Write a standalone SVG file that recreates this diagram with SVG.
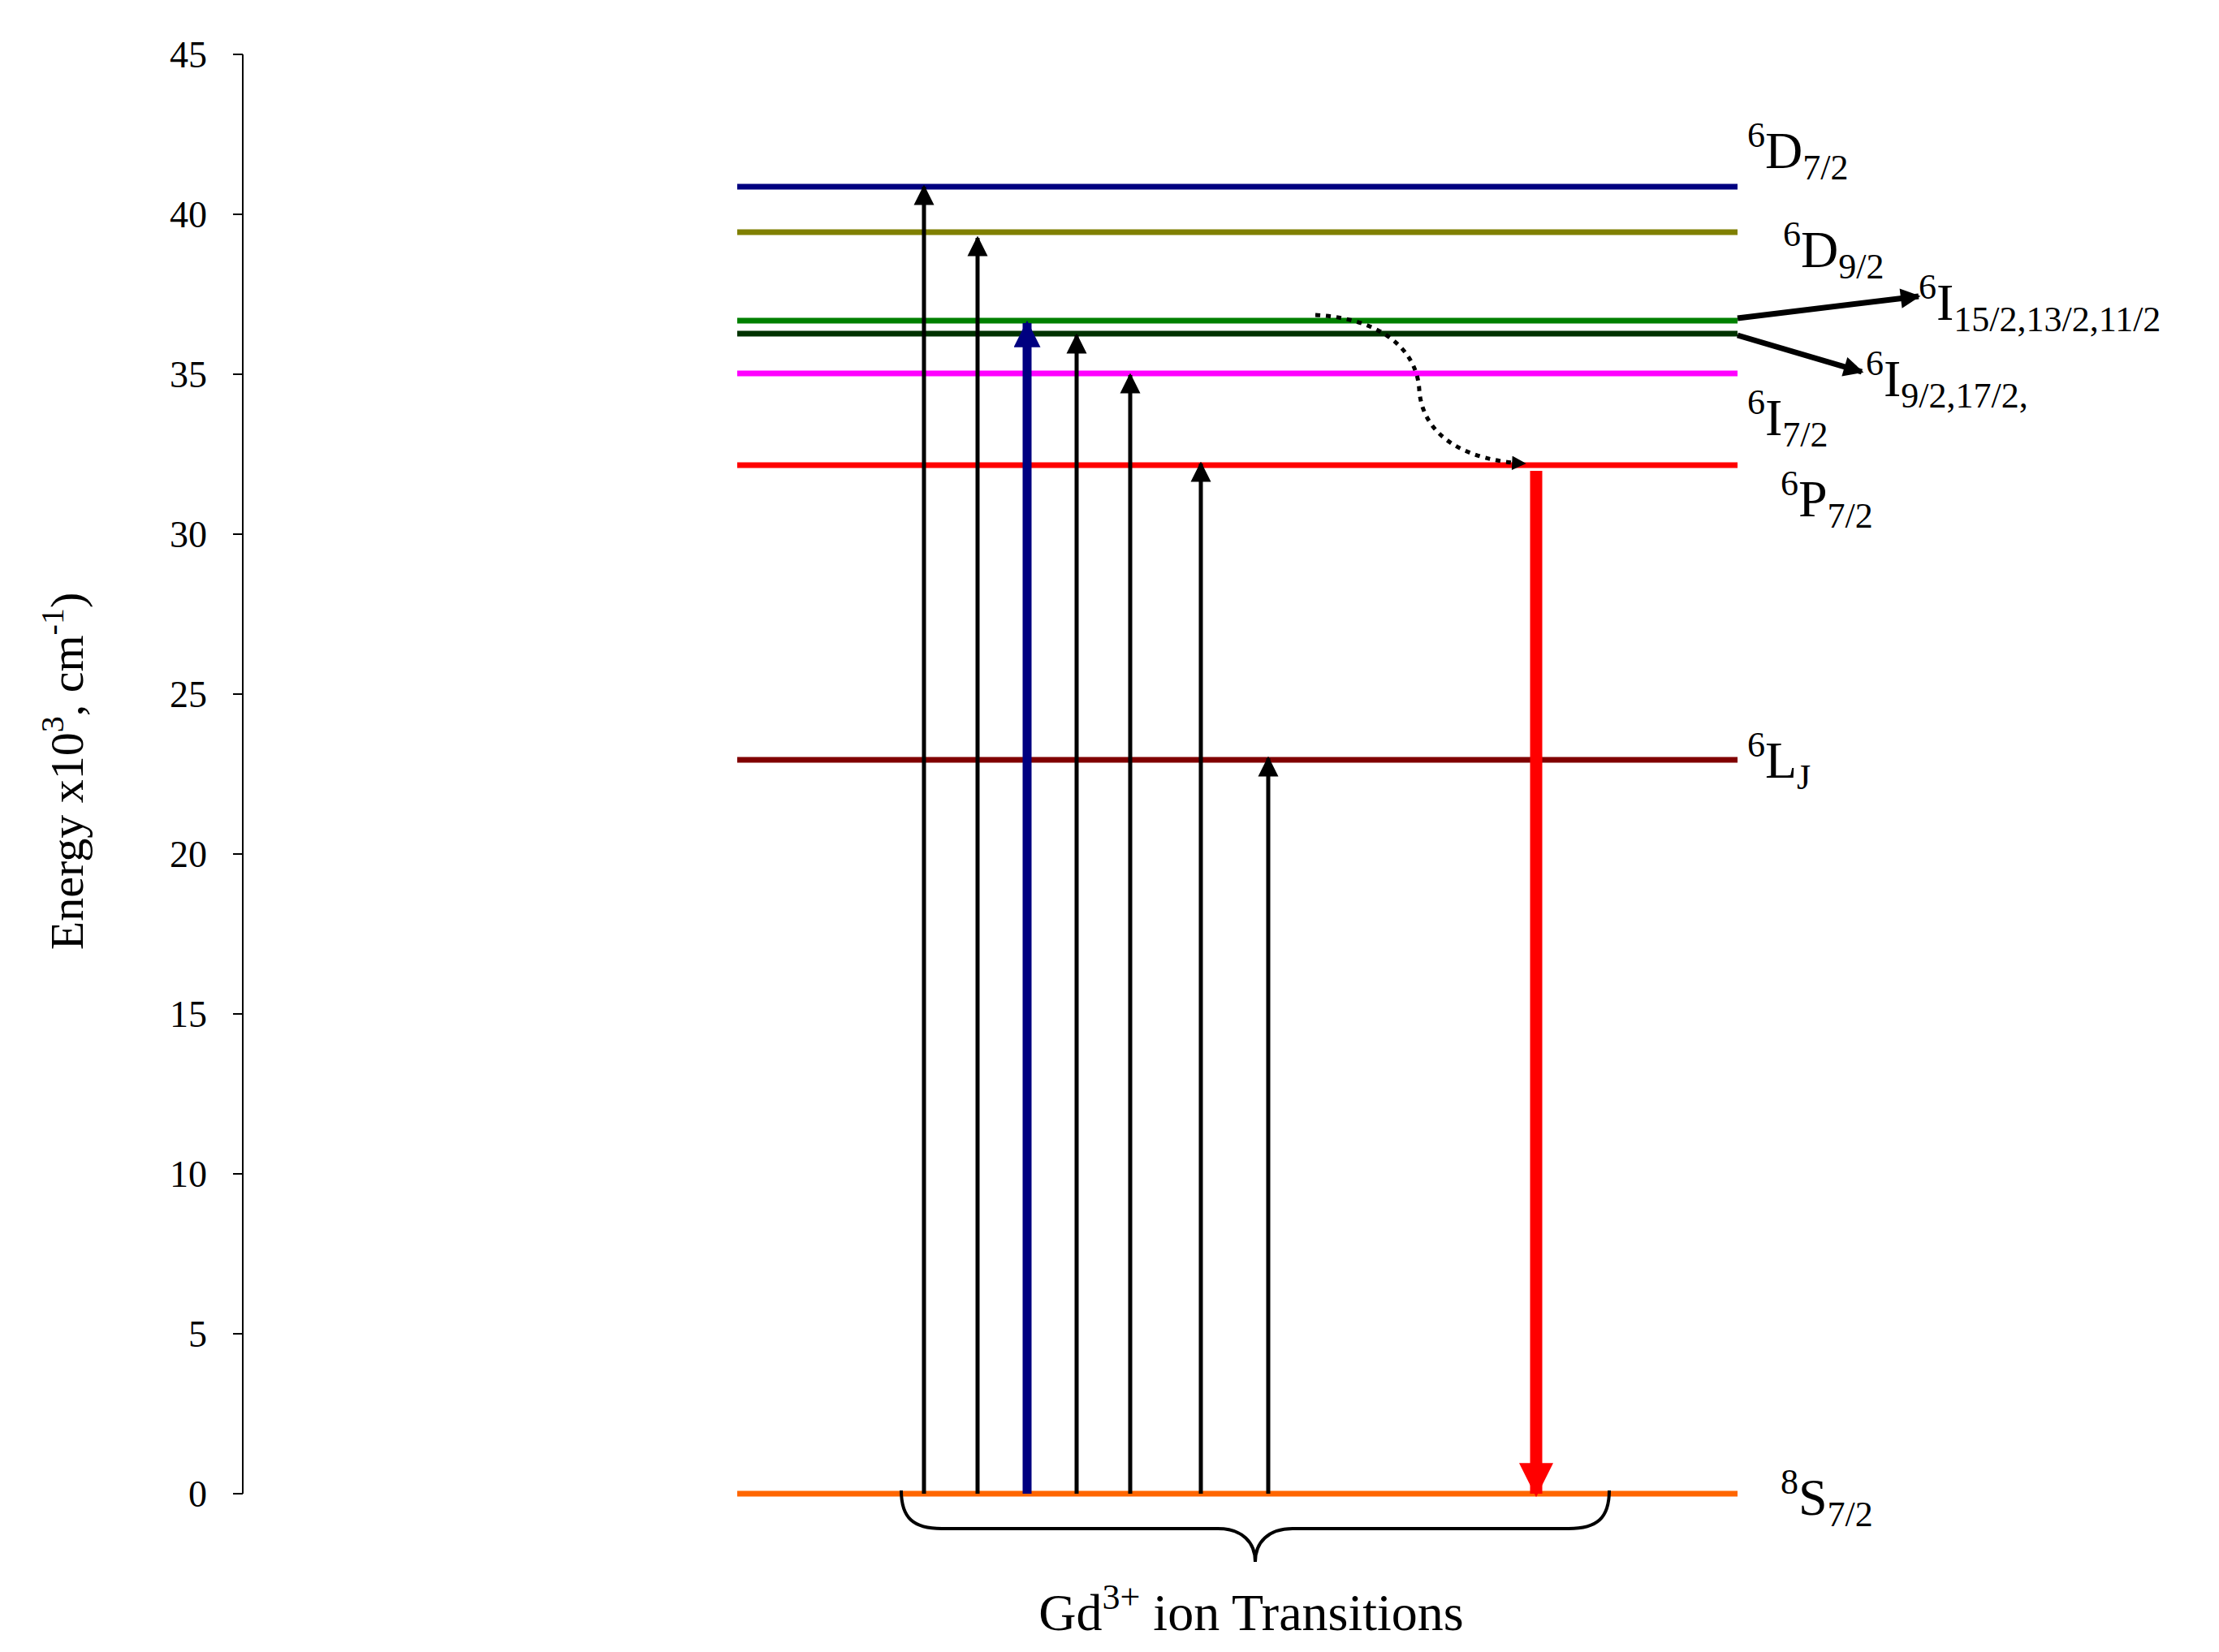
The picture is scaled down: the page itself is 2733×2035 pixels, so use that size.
<svg xmlns="http://www.w3.org/2000/svg" width="2733" height="2035" viewBox="0 0 2733 2035">
<style>
text{font-family:"Liberation Serif","Times New Roman",serif;fill:#000}
.tick{font-size:46px;text-anchor:end}
.lbl{font-size:64px}
.lvl{stroke-width:7;fill:none}
.up{stroke:#000;stroke-width:5;fill:none;marker-end:url(#ah)}
</style>
<defs>
<marker id="ah" viewBox="0 0 10 10" refX="9" refY="5" markerWidth="5" markerHeight="6" orient="auto" markerUnits="strokeWidth"><path d="M0,0L10,5L0,10z" fill="#000"/></marker>
<marker id="ahb" viewBox="0 0 10 10" refX="9" refY="5" markerWidth="3.5" markerHeight="3" orient="auto" markerUnits="strokeWidth"><path d="M0,0L10,5L0,10z" fill="#000080"/></marker>
<marker id="ahr" viewBox="0 0 10 10" refX="9" refY="5" markerWidth="3" markerHeight="2.8" orient="auto" markerUnits="strokeWidth"><path d="M0,0L10,5L0,10z" fill="#FF0000"/></marker>
<marker id="ahk" viewBox="0 0 10 10" refX="9" refY="5" markerWidth="4" markerHeight="3.5" orient="auto" markerUnits="strokeWidth"><path d="M0,0L10,5L0,10z" fill="#000"/></marker>
</defs>
<rect width="2733" height="2035" fill="#fff"/>
<g id="axis" stroke="#000" stroke-width="2">
<line x1="299" y1="67" x2="299" y2="1840"/>
<path d="M287,67H299M287,264H299M287,461H299M287,658H299M287,855H299M287,1052H299M287,1249H299M287,1446H299M287,1643H299M287,1840H299"/>
</g>
<g id="ticks">
<text class="tick" x="255" y="83">45</text><text class="tick" x="255" y="280">40</text><text class="tick" x="255" y="477">35</text><text class="tick" x="255" y="674">30</text><text class="tick" x="255" y="871">25</text><text class="tick" x="255" y="1068">20</text><text class="tick" x="255" y="1265">15</text><text class="tick" x="255" y="1462">10</text><text class="tick" x="255" y="1659">5</text><text class="tick" x="255" y="1856">0</text>
</g>
<text id="ylabel" font-size="58" transform="translate(102,950) rotate(-90)" text-anchor="middle">Energy x10<tspan font-size="40" dy="-24">3</tspan><tspan dy="24">, cm</tspan><tspan font-size="40" dy="-24">-1</tspan><tspan dy="24">)</tspan></text>
<g id="levels">
<line class="lvl" x1="908" y1="230" x2="2140" y2="230" stroke="#000080"/>
<line class="lvl" x1="908" y1="286" x2="2140" y2="286" stroke="#808000"/>
<line class="lvl" x1="908" y1="395" x2="2140" y2="395" stroke="#008000"/>
<line class="lvl" x1="908" y1="411" x2="2140" y2="411" stroke="#003300"/>
<line class="lvl" x1="908" y1="460" x2="2140" y2="460" stroke="#FF00FF"/>
<line class="lvl" x1="908" y1="573" x2="2140" y2="573" stroke="#FF0000"/>
<line class="lvl" x1="908" y1="936" x2="2140" y2="936" stroke="#800000"/>
<line class="lvl" x1="908" y1="1840" x2="2140" y2="1840" stroke="#FF6600"/>
</g>
<g id="connectors">
<line class="up" x1="1138" y1="1840" x2="1138" y2="230"/>
<line class="up" x1="1204" y1="1840" x2="1204" y2="293"/>
<line x1="1265" y1="1840" x2="1265" y2="398" stroke="#000080" stroke-width="11" marker-end="url(#ahb)"/>
<line class="up" x1="1326" y1="1840" x2="1326" y2="413"/>
<line class="up" x1="1392" y1="1840" x2="1392" y2="462"/>
<line class="up" x1="1479" y1="1840" x2="1479" y2="571"/>
<line class="up" x1="1562" y1="1840" x2="1562" y2="934"/>
<line x1="1892" y1="580" x2="1892" y2="1840" stroke="#FF0000" stroke-width="15" marker-end="url(#ahr)"/>
<path d="M1620,388C1700,392 1745,430 1748,480C1752,540 1810,568 1878,571" stroke="#000" stroke-width="5" stroke-dasharray="6,7" fill="none" marker-end="url(#ahk)"/>
<line x1="2140" y1="392" x2="2363" y2="365" stroke="#000" stroke-width="7" marker-end="url(#ahk)"/>
<line x1="2140" y1="413" x2="2293" y2="458" stroke="#000" stroke-width="7" marker-end="url(#ahk)"/>
<path d="M1110,1836C1110,1870 1125,1883 1160,1883H1500C1530,1883 1546,1900 1546,1924C1546,1900 1562,1883 1592,1883H1932C1967,1883 1982,1870 1982,1836" stroke="#000" stroke-width="4" fill="none"/>
</g>
<g id="labels" class="lbl">
<text class="lbl" x="2152" y="207"><tspan font-size="44" dy="-26">6</tspan><tspan dy="26">D</tspan><tspan font-size="44" dy="14">7/2</tspan></text>
<text class="lbl" x="2196" y="329"><tspan font-size="44" dy="-26">6</tspan><tspan dy="26">D</tspan><tspan font-size="44" dy="14">9/2</tspan></text>
<text class="lbl" x="2363" y="394"><tspan font-size="44" dy="-26">6</tspan><tspan dy="26">I</tspan><tspan font-size="44" dy="14">15/2,13/2,11/2</tspan></text>
<text class="lbl" x="2298" y="488"><tspan font-size="44" dy="-26">6</tspan><tspan dy="26">I</tspan><tspan font-size="44" dy="14">9/2,17/2,</tspan></text>
<text class="lbl" x="2152" y="536"><tspan font-size="44" dy="-26">6</tspan><tspan dy="26">I</tspan><tspan font-size="44" dy="14">7/2</tspan></text>
<text class="lbl" x="2193" y="636"><tspan font-size="44" dy="-26">6</tspan><tspan dy="26">P</tspan><tspan font-size="44" dy="14">7/2</tspan></text>
<text class="lbl" x="2152" y="958"><tspan font-size="44" dy="-26">6</tspan><tspan dy="26">L</tspan><tspan font-size="44" dy="14">J</tspan></text>
<text class="lbl" x="2193" y="1866"><tspan font-size="44" dy="-26">8</tspan><tspan dy="26">S</tspan><tspan font-size="44" dy="14">7/2</tspan></text>
<text class="lbl" x="1541" y="2008" text-anchor="middle">Gd<tspan font-size="44" dy="-26">3+</tspan><tspan dy="26"> ion Transitions</tspan></text>
</g>
</svg>
